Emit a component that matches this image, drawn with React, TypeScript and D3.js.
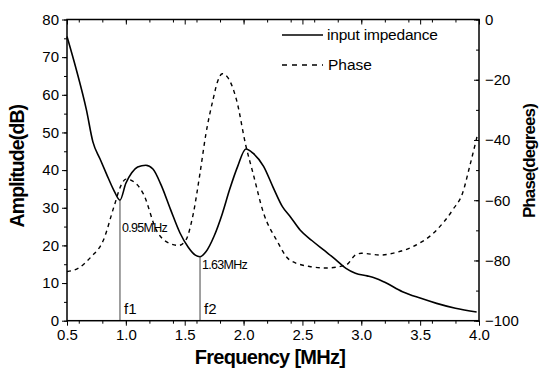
import React, { useRef, useEffect } from 'react';
import * as d3 from 'd3';

// amplitude (dB) of input impedance
const ampFreq = [0.5, 0.58, 0.665, 0.72, 0.78, 0.835, 0.9, 0.95, 1.0, 1.05, 1.1, 1.17, 1.23, 1.3, 1.38, 1.46, 1.53, 1.59, 1.63, 1.68, 1.75, 1.82, 1.88, 1.95, 2.02, 2.08, 2.17, 2.25, 2.33, 2.4, 2.48, 2.58, 2.68, 2.78, 2.87, 2.95, 3.05, 3.12, 3.2, 3.35, 3.5, 3.64, 3.8, 3.98];
const ampValues = [75.5, 66.6, 56, 47.5, 43, 39, 34.5, 32, 36.5, 39.3, 40.8, 41.3, 40.3, 36, 29.5, 23.3, 19.5, 17.4, 17, 18.3, 22.5, 28.5, 34.7, 41, 45.6, 44.5, 41, 35.5, 30.3, 27.5, 24.1, 21.3, 18.8, 16.3, 13.9, 12.6, 11.9, 11.3, 10.2, 7.7, 6, 4.6, 3.3, 2.3];

// phase (degrees)
const phaseFreq = [0.5, 0.6, 0.7, 0.81, 0.9, 0.96, 1.0, 1.05, 1.1, 1.15, 1.26, 1.37, 1.45, 1.51, 1.57, 1.63, 1.68, 1.74, 1.78, 1.82, 1.87, 1.94, 2.02, 2.08, 2.17, 2.28, 2.39, 2.56, 2.7, 2.87, 2.95, 3.0, 3.16, 3.3, 3.44, 3.64, 3.78, 3.86, 3.92, 3.99];
const phaseValues = [-83.7, -82.5, -79, -73.2, -62, -55, -53, -53.5, -55, -58, -70, -74.3, -75, -73.2, -65, -51, -38, -26.7, -20.5, -18, -19.5, -26.7, -42, -51, -64.3, -73.2, -79.8, -82, -82.5, -81.5, -78.2, -77.6, -78.2, -77.3, -75.4, -69.9, -63, -57.7, -48.9, -37.8];

const xTicks = [0.5, 1.0, 1.5, 2.0, 2.5, 3.0, 3.5, 4.0];
const ampTicks = [0, 10, 20, 30, 40, 50, 60, 70, 80];
const phaseTicks = [0, -20, -40, -60, -80, -100];

const markers = [
  { f: 0.95, amp: 32, label: '0.95MHz', name: 'f1', dy: 32 },
  { f: 1.63, amp: 17, label: '1.63MHz', name: 'f2', dy: 12 },
];

export default function App() {
  const svgRef = useRef<SVGSVGElement>(null);

  useEffect(() => {
    const width = 539;
    const height = 376;
    const left = 67;
    const right = 479;
    const top = 19.5;
    const bottom = 320.7;

    const x = d3.scaleLinear().domain([0.5, 4.0]).range([left, right]);
    const y = d3.scaleLinear().domain([0, 80]).range([bottom, top]);
    const yr = d3.scaleLinear().domain([-100, 0]).range([bottom, top]);

    const svg = d3.select(svgRef.current);
    svg.selectAll('*').remove();
    svg.attr('width', width).attr('height', height)
      .style('font-family', 'Arial, "Liberation Sans", sans-serif');

    // curves
    const ampLine = d3.line<number>()
      .x((_, i) => x(ampFreq[i]))
      .y(d => y(d))
      .curve(d3.curveMonotoneX);
    svg.append('path')
      .datum(ampValues)
      .attr('d', ampLine)
      .attr('fill', 'none')
      .attr('stroke', '#000')
      .attr('stroke-width', 1.6);

    const phaseLine = d3.line<number>()
      .x((_, i) => x(phaseFreq[i]))
      .y(d => yr(d))
      .curve(d3.curveMonotoneX);
    svg.append('path')
      .datum(phaseValues)
      .attr('d', phaseLine)
      .attr('fill', 'none')
      .attr('stroke', '#000')
      .attr('stroke-width', 1.4)
      .attr('stroke-dasharray', '4,4');

    // resonance markers
    markers.forEach(m => {
      svg.append('line')
        .attr('x1', x(m.f)).attr('x2', x(m.f))
        .attr('y1', y(m.amp)).attr('y2', y(0))
        .attr('stroke', '#444').attr('stroke-width', 1);
      svg.append('text')
        .attr('x', x(m.f) + 2).attr('y', y(m.amp) + m.dy)
        .attr('font-size', 12.5).attr('letter-spacing', -0.7)
        .text(m.label);
      svg.append('text')
        .attr('x', x(m.f) + 4).attr('y', y(1.8))
        .attr('font-size', 15)
        .text(m.name);
    });

    // frame
    svg.append('rect')
      .attr('x', left).attr('y', top)
      .attr('width', right - left).attr('height', bottom - top)
      .attr('fill', 'none').attr('stroke', '#000').attr('stroke-width', 1.5);

    // bottom axis
    const gx = svg.append('g').attr('transform', `translate(0,${bottom})`)
      .call(d3.axisBottom(x).tickValues(xTicks).tickFormat(d3.format('.1f')).tickSize(5).tickPadding(4));
    gx.select('.domain').remove();
    gx.selectAll('text').attr('font-size', 15).attr('fill', '#000');
    svg.append('g').attr('transform', `translate(0,${bottom})`)
      .call(d3.axisBottom(x).ticks(14).tickFormat(() => '').tickSize(3))
      .call(g => g.select('.domain').remove());

    // top axis (mirror, inward ticks)
    svg.append('g').attr('transform', `translate(0,${top})`)
      .call(d3.axisBottom(x).tickValues(xTicks).tickFormat(() => '').tickSize(5))
      .call(g => g.select('.domain').remove());
    svg.append('g').attr('transform', `translate(0,${top})`)
      .call(d3.axisBottom(x).ticks(14).tickFormat(() => '').tickSize(3))
      .call(g => g.select('.domain').remove());

    // left axis
    const gy = svg.append('g').attr('transform', `translate(${left},0)`)
      .call(d3.axisLeft(y).tickValues(ampTicks).tickSize(5).tickPadding(3));
    gy.select('.domain').remove();
    gy.selectAll('text').attr('font-size', 15).attr('fill', '#000');
    svg.append('g').attr('transform', `translate(${left},0)`)
      .call(d3.axisLeft(y).ticks(16).tickFormat(() => '').tickSize(3))
      .call(g => g.select('.domain').remove());

    // right axis (inward ticks)
    const gr = svg.append('g').attr('transform', `translate(${right},0)`)
      .call(d3.axisLeft(yr).tickValues(phaseTicks).tickSize(5).tickFormat(d3.format('d')));
    gr.select('.domain').remove();
    gr.selectAll('text').attr('x', 6).attr('text-anchor', 'start').attr('font-size', 15).attr('fill', '#000');
    svg.append('g').attr('transform', `translate(${right},0)`)
      .call(d3.axisLeft(yr).ticks(10).tickFormat(() => '').tickSize(3))
      .call(g => g.select('.domain').remove());

    // axis titles
    svg.append('text')
      .attr('transform', `translate(${(left + right) / 2 - 3},${height - 12})`)
      .attr('text-anchor', 'middle').attr('font-size', 20).attr('font-weight', 'bold')
      .attr('letter-spacing', -0.7)
      .text('Frequency [MHz]');
    svg.append('text')
      .attr('transform', `translate(24,${(top + bottom) / 2 - 4}) rotate(-90)`)
      .attr('text-anchor', 'middle').attr('font-size', 19.5).attr('font-weight', 'bold')
      .attr('letter-spacing', -0.9)
      .text('Amplitude(dB)');
    svg.append('text')
      .attr('transform', `translate(535,${(top + bottom) / 2 - 9}) rotate(-90)`)
      .attr('text-anchor', 'middle').attr('font-size', 17).attr('font-weight', 'bold')
      .attr('letter-spacing', -0.9)
      .text('Phase(degrees)');

    // legend
    const legend = svg.append('g');
    legend.append('line').attr('x1', 282).attr('x2', 323).attr('y1', 35).attr('y2', 35)
      .attr('stroke', '#000').attr('stroke-width', 1.6);
    legend.append('text').attr('x', 327).attr('y', 40).attr('font-size', 15.5).attr('letter-spacing', -0.2).text('input impedance');
    legend.append('line').attr('x1', 282).attr('x2', 323).attr('y1', 65).attr('y2', 65)
      .attr('stroke', '#000').attr('stroke-width', 1.4).attr('stroke-dasharray', '5,5');
    legend.append('text').attr('x', 328).attr('y', 70).attr('font-size', 15.5).text('Phase');
  }, []);

  return (
    <div style={{ position: 'absolute', left: 0, top: 0 }}>
      <svg ref={svgRef}></svg>
    </div>
  );
}
